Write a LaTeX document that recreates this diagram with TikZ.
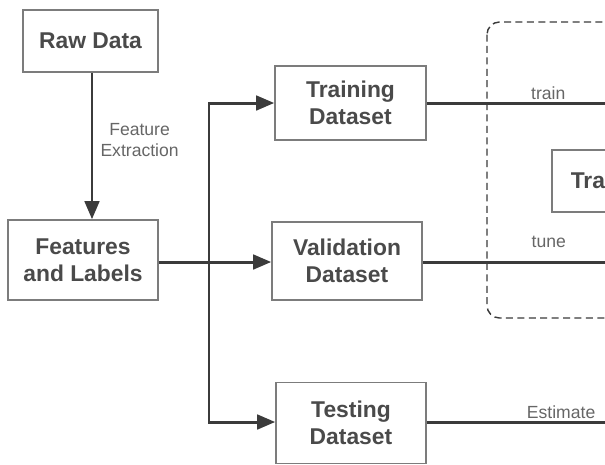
\documentclass[tikz,border=0pt]{standalone}
\usepackage{fontspec}
\setmainfont{Liberation Sans}
\usetikzlibrary{arrows.meta,positioning}
\definecolor{ink}{HTML}{3B3B3B}
\definecolor{frame}{HTML}{7C7C7C}
\definecolor{boxtext}{HTML}{4A4A4A}
\definecolor{lbltext}{HTML}{666666}
\tikzset{
  box/.style={draw=frame, line width=0.9pt, fill=white, align=center, text=boxtext, font=\fontsize{13}{15.5}\selectfont\bfseries, inner sep=3pt},
  flow/.style={-{Triangle[length=3.6mm, width=2.9mm]}, ink, line width=1.7pt},
  wire/.style={ink, line width=1.7pt},
  lbl/.style={font=\fontsize{10}{12}\selectfont, text=lbltext, align=center, inner sep=1pt},
  group/.style={draw=ink, line width=0.8pt, dash pattern=on 4pt off 2.5pt, rounded corners=0.25cm},
}

\begin{document}
\begin{tikzpicture}[x=0.02cm, y=-0.02cm]
    \clip (0,0) rectangle (605,464);
    \fill[white] (0,0) rectangle (605,464);

    % dashed group, cut by the right edge
    \draw[group] (487,22) rectangle (720,318);

    \node[box, minimum width=2.7cm, minimum height=1.24cm] (raw) at (90.5,41) {Raw Data};
    \node[box, minimum width=3cm, minimum height=1.6cm] (feat) at (83,260) {Features\\ and Labels};

    \node[box, minimum width=3.02cm, minimum height=1.48cm] (train) at (350.5,103) {Training\\ Dataset};
    \node[box, minimum width=3cm, minimum height=1.56cm] (valid) at (347,261) {Validation\\ Dataset};
    \node[box, minimum width=3cm, minimum height=1.62cm] (test) at (351,423) {Testing\\ Dataset};

    \node[box, anchor=west, text width=2.6cm, align=left, inner xsep=0.38cm, minimum height=1.24cm] (model) at (551,181) {Tra};

    \coordinate (split) at (209,262);
    \coordinate (trainout) at (640,103);
    \coordinate (validout) at (640,262);
    \coordinate (testout) at (640,422);

    \draw[flow] (raw.south -| 92,0) -- node[lbl, right=3pt, pos=0.46] {Feature\\ Extraction} (92,0 |- feat.north);
    \draw[flow] (feat.east |- split) -- (valid.west |- split);
    \draw[flow] (split) |- (train.west);
    \draw[flow] (split) |- (test.west |- testout);

    \draw[wire] (train.east) -- node[lbl, above, pos=0.57] {train} (trainout);
    \draw[wire] (valid.east |- validout) -- node[lbl, above=0.22cm, pos=0.58] {tune} (validout);
    \draw[wire] (test.east |- testout) -- node[lbl, above, pos=0.63] {Estimate} (testout);
\end{tikzpicture}
\end{document}
